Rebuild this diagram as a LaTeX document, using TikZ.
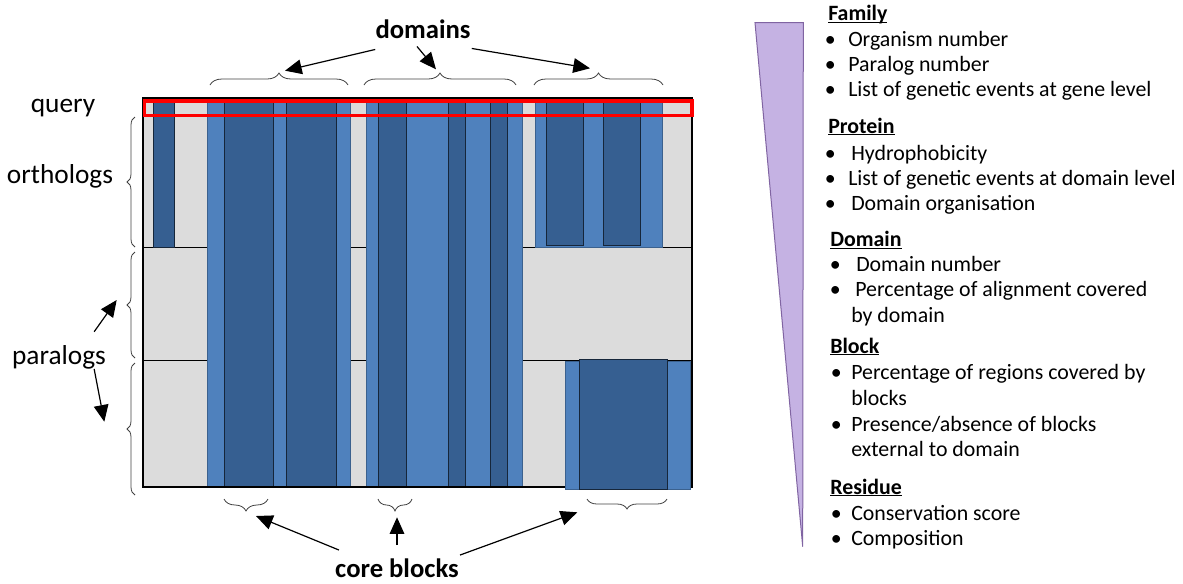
\documentclass[tikz,border=0pt]{standalone}
\usepackage{fontspec}
\setmainfont{Carlito}
\usetikzlibrary{arrows.meta,decorations.pathreplacing,calc}
\definecolor{gridgrey}{HTML}{DCDCDC}
\definecolor{blocklight}{HTML}{4F81BD}
\definecolor{blockdark}{HTML}{365F91}
\definecolor{queryred}{HTML}{FF0000}
\definecolor{lavfill}{HTML}{C5B2E3}
\definecolor{lavline}{HTML}{8064A2}
\newcommand{\bul}[1]{\llap{\makebox[\dimexpr1.5pt*#1\relax][c]{\textbullet}}}
\newcommand{\hdr}[1]{\setbox0\hbox{#1}\rlap{\rule[-1.6pt]{\wd0}{0.9pt}}\box0}

\begin{document}
\begin{tikzpicture}[x=0.75pt,y=-0.75pt,
  lb/.style={fill=blocklight,draw=blocklight!75!black,line width=0.5pt},
  db/.style={fill=blockdark,draw=blockdark!40!black,line width=0.75pt},
  rowline/.style={line width=0.75pt},
  br/.style={decorate,decoration={brace,amplitude=#1},line width=0.6pt,black!75},
  br/.default=9pt,
  ar/.style={-{Triangle[length=12.5pt,width=11pt]},line width=0.9pt},
  big/.style={font=\fontsize{20.5}{24}\selectfont,inner sep=0pt,anchor=base},
  bigb/.style={font=\fontsize{20}{24}\selectfont\bfseries,inner sep=0pt,anchor=base},
  hd/.style={anchor=base west,inner sep=0pt,font=\fontsize{16.4}{19}\selectfont\bfseries},
  it/.style={anchor=base west,inner sep=0pt,font=\fontsize{16.4}{19}\selectfont}]
  \useasboundingbox (0,0) rectangle (1183,583);

  % alignment grid
  \fill[gridgrey] (143,98) rectangle (692,487);
  \draw[rowline] (143,247) -- (692,247);
  \draw[rowline] (143,360) -- (692,360);
  \draw[db] (153,98) rectangle (174,247);
  % domain 1
  \draw[lb] (207,98) rectangle (350,487);
  \draw[db] (224,98) rectangle (273,487);
  \draw[db] (286,98) rectangle (336,487);
  % domain 2
  \draw[lb] (366,98) rectangle (522,487);
  \draw[db] (378,98) rectangle (406,486);
  \draw[db] (448,98) rectangle (465,487);
  \draw[db] (490,98) rectangle (507,487);
  % domain 3
  \draw[lb] (535,98) rectangle (662,247);
  \draw[db] (546,98) rectangle (583,245);
  \draw[db] (603,98) rectangle (640,245);
  \draw[line width=1.5pt] (143,98) rectangle (692,487);
  \draw[lb] (565,361) rectangle (690,489);
  \draw[db] (579,359) rectangle (667,489);
  \draw[queryred,line width=2.55pt] (144.3,101) rectangle (692,115.7);

  % labels
  \node[big] (query) at (63,112) {query};
  \node[big] (orth) at (60,183) {orthologs};
  \node[big] (para) at (59,364) {paralogs};
  \node[bigb] (domlbl) at (423,38) {domains};
  \node[bigb] (core) at (397,577) {core blocks};

  % braces
  \draw[br] (210,85) -- (348,85);
  \draw[br] (364,85) -- (516,85);
  \draw[br] (534,85) -- (663,85);
  \draw[br] (268,499) -- (224,499);
  \draw[br] (412,499) -- (378,499);
  \draw[br=7.5pt] (667,499) -- (587,499);
  \draw[br=6pt] (135,247) -- (135,117);
  \draw[br=6pt] (135,358) -- (135,252);
  \draw[br=6pt] (135,495) -- (135,363);

  % arrow tips
  \coordinate (dt1) at (285,70.7);
  \coordinate (dt2) at (436,69.3);
  \coordinate (dt3) at (590,68.3);
  \coordinate (ct1) at (256,516);
  \coordinate (ct2) at (397,517.3);
  \coordinate (ct3) at (577.3,512.3);
  \coordinate (pt1) at (116.7,300);
  \coordinate (pt2) at (104.3,421.7);
  \draw[ar] ([shift={(0,11)}]domlbl.south west) -- (dt1);
  \draw[ar] ([shift={(-6,8)}]domlbl.south) -- (dt2);
  \draw[ar] ([shift={(1,10)}]domlbl.south east) -- (dt3);
  \draw[ar] ([shift={(4,-8)}]core.north west) -- (ct1);
  \draw[ar] ([shift={(0,-13)}]core.north) -- (ct2);
  \draw[ar] ([shift={(1,-3)}]core.north east) -- (ct3);
  \draw[ar] ([shift={(-12,-13)}]para.north east) -- (pt1);
  \draw[ar] ([shift={(-12,0)}]para.south east) -- (pt2);

  % level wedge
  \draw[lavline,fill=lavfill,line width=0.75pt] (755,22.7) -- (803.3,22.7) -- (802.7,546.7) -- cycle;

  % feature list
  \node[hd] (fam) at (828,20.7) {\hdr{Family}};
  \node[it] (fam1) at (848,46.7) {\bul{18}Organism number};
  \node[it] (fam2) at (848,71.7) {\bul{18}Paralog number};
  \node[it] (fam3) at (848,96.7) {\bul{18}List of genetic events at gene level};
  \node[hd] (prot) at (828,133.3) {\hdr{Protein}};
  \node[it] (prot1) at (851,160) {\bul{21}Hydrophobicity};
  \node[it] (prot2) at (848,185) {\bul{18}List of genetic events at domain level};
  \node[it] (prot3) at (851,210.7) {\bul{21}Domain organisation};
  \node[hd] (dom) at (830,246.7) {\hdr{Domain}};
  \node[it] (dom1) at (856,271.7) {\bul{21}Domain number};
  \node[it] (dom2) at (855,296.7) {\bul{20}Percentage of alignment covered};
  \node[it] (dom2b) at (851,322.7) {by domain};
  \node[hd] (blk) at (830,353.3) {\hdr{Block}};
  \node[it] (blk1) at (851,379.3) {\bul{15}Percentage of regions covered by};
  \node[it] (blk1b) at (851,405) {blocks};
  \node[it] (blk2) at (851,431) {\bul{15}Presence/absence of blocks};
  \node[it] (blk2b) at (851,456.7) {external to domain};
  \node[hd] (res) at (830,494.3) {\hdr{Residue}};
  \node[it] (res1) at (851,520) {\bul{15}Conservation score};
  \node[it] (res2) at (851,545.7) {\bul{15}Composition};
\end{tikzpicture}
\end{document}
